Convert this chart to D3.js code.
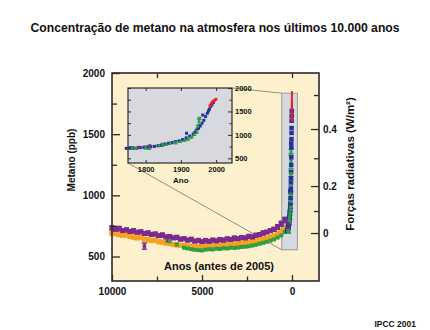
<!DOCTYPE html>
<html><head><meta charset="utf-8">
<script src="https://cdn.jsdelivr.net/npm/d3@7"></script>
<style>
body{margin:0;background:#fff}
svg{display:block}
text{font-family:"Liberation Sans",Arial,Helvetica,sans-serif;font-weight:bold;fill:#111}
</style>
</head><body>
<svg id="c" width="430" height="330"></svg>
<script>
// ---------- text ----------
const chartTitle = "Concentração de metano na atmosfera nos últimos 10.000 anos";
const yTitle = "Metano (ppb)";
const y2Title = "Forças radiativas (W/m²)";
const xTitle = "Anos (antes de 2005)";
const insetXTitle = "Ano";
const sourceNote = "IPCC 2001";

// ---------- axis ticks ----------
const yMajorTicks = [500, 1000, 1500, 2000];
const yMinorTicks = [750, 1250, 1750];
const xMajorTicks = [10000, 5000, 0];
const xMinorTicks = [7500, 2500];
const xTopTicks = [7500, 0];
const forcingLabels = ["0", "0.1", "0.2", "0.3", "0.4", "0.5"];
const forcingAtPpb = [692, 872, 1076, 1303, 1542, 1820];
const insetXTicks = [1800, 1900, 2000];
const insetYMajor = [500, 1000, 1500, 2000];
const insetYMinor = [750, 1250, 1750];

// ---------- ice core data, years before 2005 ----------
const coreYears = [10000,9800,9600,9400,9200,9000,8800,8600,8400,8200,8000,7800,7600,7400,7200,7000,6800,6600,6400,6200,6000,5800,5600,5400,5200,5000,4800,4600,4400,4200,4000,3800,3600,3400,3200,3000,2800,2600,2400,2200,2000,1800,1600,1400,1200,1000,800,600,400];
const purplePpb = [735,722,728,712,718,705,710,698,702,688,692,680,684,670,675,660,664,652,656,642,646,634,640,626,632,622,630,624,634,628,638,634,644,640,650,646,656,652,664,660,674,680,692,700,712,722,742,768,798];
const orangePpb = [692,686,680,674,676,664,660,652,655,642,638,630,634,620,616,610,606,600,596,592,590,586,582,584,580,584,582,588,586,592,590,596,598,604,602,608,610,614,616,622,628,634,642,650,658,668,684,702,735];
const purpleErr = [14,10,16,10,12,10,14,10,12,10,14,10,12,10,14,10,12,10,14,10,12,10,14,10,12,10,14,10,12,10,14,10,12,10,14,10,12,10,14,10,12,10,14,10,12,14,16,18,20];
const orangeErr = [12,10,14,10,12,10,14,10,12,10,14,10,12,10,14,10,12,10,14,10,12,10,14,10,12,10,14,10,12,10,14,10,12,10,14,10,12,10,14,10,12,10,14,10,12,14,16,18,20];
const greenYears = [6800,6400,6000,5800,5600,5400,5200,5000,4800,4600,4400,4200,4000,3800,3600,3400,3200,3000,2800,2600,2400,2200,2000,1800,1600,1400,1200,1000,800,600,400,300];
const greenPpb = [625,598,572,566,560,555,552,550,556,560,558,564,562,568,566,572,570,574,578,580,584,590,596,604,612,620,630,640,655,672,700,715];
const purpleOutYears = [8200, 6900];
const purpleOutPpb = [585, 640];
const purpleOutErr = [25, 18];

// ---------- last 250 years (inset), calendar years ----------
const blueAD = [1745,1755,1765,1775,1785,1795,1805,1815,1825,1835,1845,1855,1865,1875,1885,1895,1905,1915,1916,1925,1935,1940,1945,1950,1955,1960,1962,1965,1970,1975,1978,1981,1985,1988,1992];
const bluePpb = [712,715,720,718,728,735,742,748,755,768,780,805,822,838,855,872,900,935,1035,975,1020,1060,1100,1140,1190,1250,1424,1310,1390,1460,1510,1550,1610,1650,1690];
const redAD = [1982,1984,1986,1988,1990,1992,1994,1996,1998,2000];
const redPpb = [1620,1640,1662,1685,1705,1718,1728,1740,1752,1762];
const greenAD = [1762,1772,1800,1810,1838,1848,1858,1870,1885,1898,1910,1920,1930,1938,1945,1948,1951,1953];
const greenIcePpb = [720,712,728,705,775,790,795,820,840,855,880,905,950,1010,1080,1180,1280,1350];
const greenIceErr = [28,12,32,12,15,30,12,15,32,14,15,14,18,20,45,25,60,25];
const magentaAD = [1780, 1812];
const magentaPpb = [735, 770];

// highlighted zoom window on the main plot (years before 2005, ppb)
const windowYears = [570, -300];
const windowPpb = [555, 1835];

// ---------- colours ----------
const cPurple = "#7d2a8f", cOrange = "#f5a21e", cGreen = "#2f9d45", cBlue = "#24309c", cRed = "#e3232b";
const cPlotBg = "#fcf0cd", cInsetBg = "#d8d9de", cFrame = "#2a2a2a";

const svg = d3.select("#c");

// scales
const x = d3.scaleLinear().domain([10000, -1500]).range([112, 319]);
const y = d3.scaleLinear().domain([300, 2000]).range([281, 73]);
const ix = d3.scaleLinear().domain([1750, 2045]).range([128, 232]);
const iy = d3.scaleLinear().domain([400, 2000]).range([163, 88]);
const bp = ad => 2005 - ad;

// title
svg.append("text").attr("x", 215).attr("y", 32).attr("text-anchor", "middle")
  .attr("font-size", 12.2).text(chartTitle);
svg.append("text").attr("x", 416).attr("y", 327).attr("text-anchor", "end")
  .attr("font-size", 8.5).text(sourceNote);

// plot background
svg.append("rect").attr("x", x(10000)).attr("y", y(2000))
  .attr("width", x(-1500) - x(10000)).attr("height", y(300) - y(2000)).attr("fill", cPlotBg);

// highlight window
svg.append("rect").attr("x", x(windowYears[0])).attr("y", y(windowPpb[1]))
  .attr("width", x(windowYears[1]) - x(windowYears[0])).attr("height", y(windowPpb[0]) - y(windowPpb[1]))
  .attr("fill", cInsetBg).attr("stroke", "#9c9c9c").attr("stroke-width", 1);

// connector lines
const conn = svg.append("g").attr("stroke", "#8e8e8e").attr("stroke-width", 1).attr("fill", "none");
conn.append("line").attr("x1", ix(2045)).attr("y1", iy(2000)).attr("x2", x(windowYears[0])).attr("y2", y(windowPpb[1]));
conn.append("line").attr("x1", ix(1750)).attr("y1", iy(400)).attr("x2", x(windowYears[0])).attr("y2", y(windowPpb[0]));

// helper for squares + error bars
function squares(g, xs, ys, xsc, ysc, color, s) {
  g.append("g").attr("fill", color).selectAll("rect").data(xs).join("rect")
    .attr("x", (d) => xsc(d) - s / 2).attr("y", (d, i) => ysc(ys[i]) - s / 2)
    .attr("width", s).attr("height", s);
}
function errbars(g, xs, ys, es, xsc, ysc, color, cap, w) {
  const gg = g.append("g").attr("stroke", color).attr("stroke-width", w);
  xs.forEach((d, i) => {
    const cx = xsc(d), y1 = ysc(ys[i] - es[i]), y2 = ysc(ys[i] + es[i]);
    gg.append("line").attr("x1", cx).attr("x2", cx).attr("y1", y1).attr("y2", y2);
    gg.append("line").attr("x1", cx - cap).attr("x2", cx + cap).attr("y1", y1).attr("y2", y1);
    gg.append("line").attr("x1", cx - cap).attr("x2", cx + cap).attr("y1", y2).attr("y2", y2);
  });
}

// main data
const main = svg.append("g");
errbars(main, coreYears, orangePpb, orangeErr, x, y, cOrange, 2.5, 2);
squares(main, coreYears, orangePpb, x, y, cOrange, 5);
errbars(main, coreYears, purplePpb, purpleErr, x, y, cPurple, 2.5, 2);
squares(main, coreYears, purplePpb, x, y, cPurple, 5);
errbars(main, purpleOutYears, purpleOutPpb, purpleOutErr, x, y, cPurple, 2.5, 1.5);
squares(main, purpleOutYears, purpleOutPpb, x, y, cPurple, 3.5);
squares(main, greenYears, greenPpb, x, y, cGreen, 4);
// spike: last 250 years
const mx = d => x(bp(d));
errbars(main, greenAD, greenIcePpb, greenIceErr, mx, y, cGreen, 2.5, 1.5);
squares(main, blueAD, bluePpb, mx, y, cBlue, 4.5);
squares(main, greenAD, greenIcePpb, mx, y, cGreen, 3);
squares(main, magentaAD, magentaPpb, mx, y, cPurple, 3);
main.append("g").selectAll("line").data([0]).join("line")
  .attr("x1", mx(2000)).attr("x2", mx(2000)).attr("y1", y(d3.max(redPpb) + 90)).attr("y2", y(d3.min(redPpb) - 20))
  .attr("stroke", cRed).attr("stroke-width", 2);
squares(main, redAD, redPpb, mx, y, cRed, 2);

// main axes (ticks inward)
function styleAxis(g) { g.select(".domain").remove(); g.selectAll("line").attr("stroke", cFrame).attr("stroke-width", 1.3); g.selectAll("text").attr("font-size", 10).attr("font-family", null).attr("fill", "#111"); }
svg.append("g").attr("transform", `translate(${x(10000)},0)`)
  .call(d3.axisLeft(y).tickValues(yMajorTicks).tickSizeInner(-8).tickSizeOuter(0).tickPadding(7).tickFormat(d3.format("d"))).call(styleAxis);
svg.append("g").attr("transform", `translate(${x(10000)},0)`)
  .call(d3.axisLeft(y).tickValues(yMinorTicks).tickSizeInner(-5).tickSizeOuter(0).tickFormat("")).call(styleAxis);
svg.append("g").attr("transform", `translate(0,${y(300)})`)
  .call(d3.axisBottom(x).tickValues(xMajorTicks).tickSizeInner(-6).tickSizeOuter(0).tickPadding(7).tickFormat(d3.format("d"))).call(styleAxis);
svg.append("g").attr("transform", `translate(0,${y(300)})`)
  .call(d3.axisBottom(x).tickValues(xMinorTicks).tickSizeInner(-4.5).tickSizeOuter(0).tickFormat("")).call(styleAxis);
svg.append("g").attr("transform", `translate(0,${y(2000)})`)
  .call(d3.axisTop(x).tickValues(xTopTicks).tickSizeInner(-5).tickSizeOuter(0).tickFormat("")).call(styleAxis);
svg.append("g").attr("transform", `translate(${x(-1500)},0)`)
  .call(d3.axisRight(y).tickValues(forcingAtPpb).tickSizeInner(-8).tickSizeOuter(0).tickPadding(4)
    .tickFormat((d, i) => i % 2 === 0 ? forcingLabels[i] : "")).call(styleAxis)
  .call(g => g.selectAll(".tick").filter((d, i) => i % 2 === 1).select("line").attr("x2", -5));

// frame
svg.append("rect").attr("x", x(10000)).attr("y", y(2000))
  .attr("width", x(-1500) - x(10000)).attr("height", y(300) - y(2000))
  .attr("fill", "none").attr("stroke", cFrame).attr("stroke-width", 1.6);

// axis titles
svg.append("text").attr("transform", `translate(75,160) rotate(-90)`).attr("text-anchor", "middle")
  .attr("font-size", 10).text(yTitle);
svg.append("text").attr("transform", `translate(354,164) rotate(-90)`).attr("text-anchor", "middle")
  .attr("font-size", 11.5).text(y2Title);
svg.append("text").attr("x", 219).attr("y", 270).attr("text-anchor", "middle")
  .attr("font-size", 11).text(xTitle);

// ---------- inset ----------
const inset = svg.append("g");
inset.append("rect").attr("x", ix(1750)).attr("y", iy(2000))
  .attr("width", ix(2045) - ix(1750)).attr("height", iy(400) - iy(2000)).attr("fill", cInsetBg);
errbars(inset, greenAD, greenIcePpb, greenIceErr, ix, iy, cGreen, 2, 1.2);
squares(inset, blueAD, bluePpb, ix, iy, cBlue, 3);
squares(inset, magentaAD, magentaPpb, ix, iy, cPurple, 3);
squares(inset, greenAD, greenIcePpb, ix, iy, cGreen, 2.5);
squares(inset, redAD, redPpb, ix, iy, cRed, 2.5);

function styleInset(g) { g.select(".domain").remove(); g.selectAll("line").attr("stroke", cFrame).attr("stroke-width", 1); g.selectAll("text").attr("font-size", 7.5).attr("font-family", null).attr("fill", "#111"); }
inset.append("g").attr("transform", `translate(0,${iy(400)})`)
  .call(d3.axisBottom(ix).tickValues(insetXTicks).tickSizeInner(-3).tickSizeOuter(0).tickPadding(4).tickFormat(d3.format("d"))).call(styleInset);
inset.append("g").attr("transform", `translate(0,${iy(2000)})`)
  .call(d3.axisTop(ix).tickValues(insetXTicks).tickSizeInner(-3).tickSizeOuter(0).tickFormat("")).call(styleInset);
inset.append("g").attr("transform", `translate(${ix(2045)},0)`)
  .call(d3.axisRight(iy).tickValues(insetYMajor).tickSizeInner(-4).tickSizeOuter(0).tickPadding(3).tickFormat(d3.format("d"))).call(styleInset);
inset.append("g").attr("transform", `translate(${ix(2045)},0)`)
  .call(d3.axisRight(iy).tickValues(insetYMinor).tickSizeInner(-2.5).tickSizeOuter(0).tickFormat("")).call(styleInset);
inset.append("g").attr("transform", `translate(${ix(1750)},0)`)
  .call(d3.axisLeft(iy).tickValues(insetYMajor.concat(insetYMinor)).tickSizeInner(-3).tickSizeOuter(0).tickFormat("")).call(styleInset);
inset.append("rect").attr("x", ix(1750)).attr("y", iy(2000))
  .attr("width", ix(2045) - ix(1750)).attr("height", iy(400) - iy(2000))
  .attr("fill", "none").attr("stroke", cFrame).attr("stroke-width", 1.2);
inset.append("text").attr("x", ix(1900)).attr("y", 183).attr("text-anchor", "middle")
  .attr("font-size", 8).text(insetXTitle);
</script>
</body></html>
